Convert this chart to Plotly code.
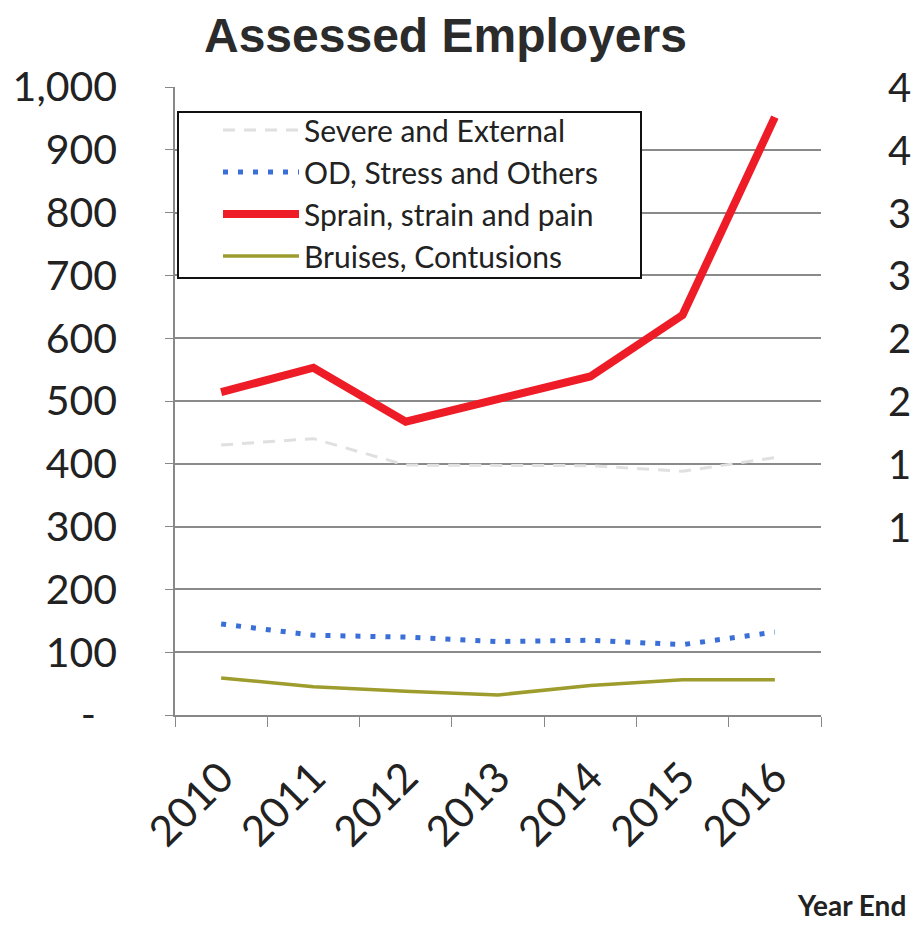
import plotly.graph_objects as go

years = ["2010", "2011", "2012", "2013", "2014", "2015", "2016"]
severe_external = [430, 440, 398, 398, 397, 388, 410]
od_stress_others = [145, 127, 124, 117, 119, 112, 132]
sprain_strain_pain = [514, 553, 467, 502, 539, 637, 952]
bruises_contusions = [59, 45, 38, 32, 47, 56, 56]

y_tick_vals = [0, 100, 200, 300, 400, 500, 600, 700, 800, 900, 1000]
y_tick_text = ["-\u00a0\u00a0", "100", "200", "300", "400", "500", "600", "700", "800", "900", "1,000"]

# cut-off tick labels of the neighbouring chart on the right
right_digits = ["4", "4", "3", "3", "2", "2", "1", "1"]
right_digit_levels = [1000, 900, 800, 700, 600, 500, 400, 300]

# page body has an 8px margin: work in reference pixels and convert
OFF = 8
FIG_W, FIG_H = 922 - OFF, 932 - 2 * OFF
PL, PR, PT, PB = 175, 821, 87, 715  # plot area in reference pixels
PW, PH = PR - PL, PB - PT


def px(x):
    return (x - PL) / PW


def py(y):
    return (PB - y) / PH


fig = go.Figure()
fig.add_trace(go.Scatter(x=years, y=severe_external, name="Severe and External",
                         mode="lines", line=dict(color="#e0e0e0", width=3, dash="12px,9px"),
                         legendgroup="a"))
fig.add_trace(go.Scatter(x=years, y=od_stress_others, name="OD, Stress and Others",
                         mode="lines", line=dict(color="#3a6fd8", width=5, dash="5px,10px"),
                         legendgroup="b"))
fig.add_trace(go.Scatter(x=years, y=sprain_strain_pain, name="Sprain, strain and pain",
                         mode="lines", line=dict(color="#ee1c27", width=8),
                         legendgroup="c"))
fig.add_trace(go.Scatter(x=years, y=bruises_contusions, name="Bruises, Contusions",
                         mode="lines", line=dict(color="#9e9c2c", width=3.5),
                         legendgroup="d"))

annotations = [
    dict(text="<b>Assessed Employers</b>", x=px(445), y=py(35), xref="paper", yref="paper",
         xanchor="center", yanchor="middle", showarrow=False,
         font=dict(family="Liberation Sans", size=48, color="#2b2b2b")),
    dict(text="<b>Year End</b>", x=px(908), y=py(905), xref="paper", yref="paper",
         xanchor="right", yanchor="middle", showarrow=False,
         font=dict(family="Lato", size=28, color="#222222")),
]
for d, lv in zip(right_digits, right_digit_levels):
    annotations.append(dict(text=d, x=px(886), y=lv, xref="paper", yref="y",
                            xanchor="left", yanchor="middle", showarrow=False,
                            font=dict(family="Lato", size=40, color="#222222")))

shapes = [dict(type="rect", xref="paper", yref="paper",
               x0=px(178), x1=px(641), y0=py(278), y1=py(112),
               line=dict(color="#111111", width=2), fillcolor="white", layer="above")]

fig.update_layout(
    width=FIG_W, height=FIG_H,
    margin=dict(l=PL - OFF, r=FIG_W - (PR - OFF), t=PT - OFF, b=FIG_H - (PB - OFF)),
    paper_bgcolor="white", plot_bgcolor="white",
    showlegend=True,
    legend=dict(x=px(218), y=py(104), xanchor="left", yanchor="top",
                borderwidth=0, bgcolor="rgba(0,0,0,0)",
                font=dict(family="Lato", size=30, color="#222222"),
                itemwidth=76, traceorder="grouped", tracegroupgap=0),
    annotations=annotations,
    shapes=shapes,
    xaxis=dict(type="category", range=[-0.5, 6.5], tickson="boundaries",
               ticks="outside", ticklen=10, automargin=False,
               tickcolor="#888888", showline=True, linecolor="#888888", linewidth=1.5,
               showgrid=False, tickangle=-45, ticklabelstandoff=19,
               tickfont=dict(family="Lato", size=42, color="#222222")),
    yaxis=dict(range=[0, 1000], tickvals=y_tick_vals, ticktext=y_tick_text,
               ticks="outside", ticklen=8, tickcolor="#888888", automargin=False,
               showline=True, linecolor="#888888", linewidth=1.5,
               showgrid=True, gridcolor="#8a8a8a", gridwidth=1.5, zeroline=False,
               ticklabelstandoff=40,
               tickfont=dict(family="Lato", size=41, color="#222222")),
)

fig.write_html("out.html")
